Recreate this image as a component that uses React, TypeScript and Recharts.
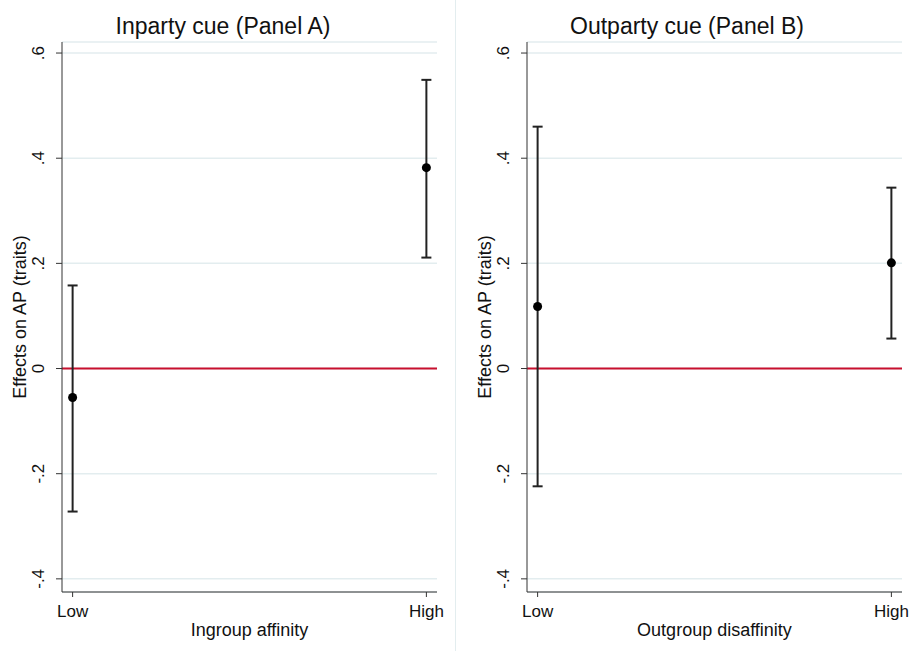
import { CartesianGrid, ErrorBar, ReferenceLine, Scatter, ScatterChart, XAxis, YAxis } from "recharts";

const categories = ["Low", "High"];
const yTicks = [-0.4, -0.2, 0, 0.2, 0.4, 0.6];

// point estimates and 95% CI bounds
const inpartyEst = [-0.055, 0.382];
const inpartyLow = [-0.272, 0.211];
const inpartyHigh = [0.158, 0.549];

const outpartyEst = [0.118, 0.201];
const outpartyLow = [-0.224, 0.057];
const outpartyHigh = [0.46, 0.344];

const FONT = '"Liberation Sans", Arial, sans-serif';

type Row = { x: number; y: number; err: [number, number] };

function buildRows(est: number[], lo: number[], hi: number[]): Row[] {
  return est.map((e, i) => ({ x: i, y: e, err: [e - lo[i], hi[i] - e] }));
}

function fmtTick(v: number) {
  if (v === 0) return "0";
  const s = Math.abs(v).toFixed(1).replace(/^0/, "");
  return v < 0 ? "-" + s : s;
}

function YTick(props: any) {
  const { x, y, payload } = props;
  const cx = x - 17;
  return (
    <text
      x={cx}
      y={y}
      transform={`rotate(-90, ${cx}, ${y})`}
      textAnchor="middle"
      dominantBaseline="central"
      fontSize={17}
      fill="#111"
      fontFamily={FONT}
    >
      {fmtTick(payload.value)}
    </text>
  );
}

function XTick(props: any) {
  const { x, y, payload } = props;
  return (
    <text x={x} y={y + 18} textAnchor="middle" fontSize={17} fill="#111" fontFamily={FONT}>
      {categories[payload.value]}
    </text>
  );
}

function Dot(props: any) {
  return <circle cx={props.cx} cy={props.cy} r={4.5} fill="#000" />;
}

function Panel({
  rows,
  xLabel,
  axisWidth,
  rightMargin,
  width,
}: {
  rows: Row[];
  xLabel: string;
  axisWidth: number;
  rightMargin: number;
  width: number;
}) {
  return (
    <ScatterChart
      width={width}
      height={651}
      margin={{ top: 42, right: rightMargin, left: 0, bottom: 0 }}
    >
      <CartesianGrid vertical={false} stroke="#e3edef" strokeWidth={1.5} />
      <XAxis
        type="number"
        dataKey="x"
        domain={[-0.03, 1.03]}
        ticks={[0, 1]}
        allowDataOverflow
        height={59}
        stroke="#333"
        tickSize={5}
        tick={<XTick />}
        label={{
          content: (p: any) => (
            <text
              x={p.viewBox.x + p.viewBox.width / 2}
              y={p.viewBox.y + 44}
              textAnchor="middle"
              fontSize={18}
              fill="#111"
              fontFamily={FONT}
            >
              {xLabel}
            </text>
          ),
        }}
      />
      <YAxis
        type="number"
        dataKey="y"
        domain={[-0.425, 0.621]}
        ticks={yTicks}
        allowDataOverflow
        width={axisWidth}
        stroke="#333"
        tickSize={6}
        tickMargin={0}
        tick={<YTick />}
        label={{
          content: (p: any) => {
            const lx = p.viewBox.x + p.viewBox.width - 42;
            const ly = p.viewBox.y + p.viewBox.height / 2;
            return (
              <text
                x={lx}
                y={ly}
                transform={`rotate(-90, ${lx}, ${ly})`}
                textAnchor="middle"
                dominantBaseline="central"
                fontSize={18}
                fill="#111"
                fontFamily={FONT}
              >
                Effects on AP (traits)
              </text>
            );
          },
        }}
      />
      <ReferenceLine y={0} stroke="#c8102e" strokeWidth={2} />
      <Scatter data={rows} shape={<Dot />} isAnimationActive={false}>
        <ErrorBar dataKey="err" direction="y" width={5} strokeWidth={2} stroke="#222" />
      </Scatter>
    </ScatterChart>
  );
}

export default function App() {
  const a = buildRows(inpartyEst, inpartyLow, inpartyHigh);
  const b = buildRows(outpartyEst, outpartyLow, outpartyHigh);
  const title = {
    position: "absolute" as const,
    top: 13,
    fontSize: 23,
    lineHeight: "26px",
    fontFamily: FONT,
    color: "#111",
    transform: "translateX(-50%)",
    whiteSpace: "nowrap" as const,
  };
  return (
    <div style={{ position: "absolute", left: 0, top: 0, width: 909, height: 651, background: "#fff" }}>
      <div style={{ position: "absolute", left: 0, top: 0 }}>
        <Panel rows={a} xLabel="Ingroup affinity" axisWidth={62} rightMargin={18} width={455} />
      </div>
      <div style={{ position: "absolute", left: 455, top: 0 }}>
        <Panel rows={b} xLabel="Outgroup disaffinity" axisWidth={72} rightMargin={7} width={454} />
      </div>
      <div style={{ position: "absolute", left: 455, top: 0, width: 1, height: 651, background: "#e3edef" }} />
      <div style={{ ...title, left: 223 }}>Inparty cue (Panel A)</div>
      <div style={{ ...title, left: 687 }}>Outparty cue (Panel B)</div>
    </div>
  );
}
